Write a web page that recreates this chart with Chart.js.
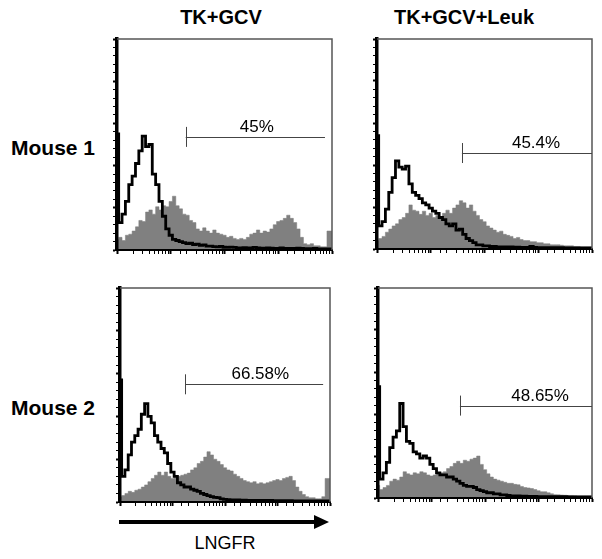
<!DOCTYPE html>
<html>
<head>
<meta charset="utf-8">
<script src="https://cdn.jsdelivr.net/npm/chart.js@4.4.0/dist/chart.umd.min.js"></script>
<style>
  body { margin: 0; background: #fff; width: 602px; height: 559px; position: relative; overflow: hidden;
         font-family: "Liberation Sans", Arial, sans-serif; }
  .lbl { position: absolute; color: #000; white-space: nowrap; transform: translate(-50%, -50%); }
  .b { font-weight: bold; }
  canvas { position: absolute; }
</style>
</head>
<body>
<div class="lbl b" style="left:221px; top:17px; font-size:20px;">TK+GCV</div>
<div class="lbl b" style="left:464px; top:17px; font-size:20px;">TK+GCV+Leuk</div>
<div class="lbl b" style="left:53px; top:148px; font-size:21px;">Mouse 1</div>
<div class="lbl b" style="left:53px; top:408px; font-size:21px;">Mouse 2</div>
<div class="lbl" style="left:225px; top:543px; font-size:18px;">LNGFR</div>
<svg style="position:absolute; left:0; top:0;" width="602" height="559">
  <line x1="119" y1="522" x2="316" y2="522" stroke="#000" stroke-width="4"/>
  <polygon points="314,515 329,522 314,529" fill="#000"/>
</svg>

<canvas id="p1"></canvas>
<canvas id="p2"></canvas>
<canvas id="p3"></canvas>
<canvas id="p4"></canvas>

<script>
// histogram counts, 64 log-spaced channels (% of panel height)
const blackP1 = [55,13,17,23,31,35,41,47,54,49, 50,36,31,23,16,10,7,5,4.5,4,
  3.5,3,3.2,2.6,2.8,2.2,2.4,1.8,1.8,1.6, 1.5,1.7,1.3,1.2,1.4,1.2,1,1,1.1,1,
  1,1.2,1,0.9,0.9,1,0.9,0.8,0.8,1,0.8,0.8,0.7,0.7,0.9,0.7,0.6,0.6,0.6,0.8, 0.5,0.5,0.5,0.5];
const grayP1 = [5,6,4.5,7,7.5,9,11,14,13.5,18, 19,17,20.5,19,21,20.5,23,25.5,21,19.5,
  17,16.5,14,13,10,9,10.5,9,8,9.5, 8,7.5,7,6,6.5,5.5,5,5.5,5,6,
  7.5,8,9.5,8,9,8.5,10,12,13.5,14, 15,16.5,15,13,10,6,3,2.5,3,2, 2,1.5,1.5,9];

const blackP2 = [54,11,13,19,27,34,42,39,38,39.5, 31,27,25.5,24,22,21,19.5,18,17,15,
  14,12,11,12,9,9.5,7,5,4,3, 2,2,1.5,1.5,1.2,1.2,1,1,1,1,
  1,0.9,0.9,0.8,0.8,0.8,1.2,0.8,0.7,0.7, 0.7,0.7,0.6,0.6,0.6,0.6,0.5,0.5,0.5,0.5, 0.5,0.5,0.5,0.5];
const grayP2 = [4,5,6,8,9.5,11,12,14,15,17, 21,18.5,18,16.5,18,16,17,15,16,14.5,
  17,18.5,17,19.5,21,23,22,19.5,21,18, 16,14,13,11,10,9,8,8.5,7,6.5,
  6,5,5.5,4.5,4,4,3.5,3.5,3,3, 2.5,2.5,2,2,2,1.8,1.5,1.5,1.5,1.2, 1.2,1,1,1];

const blackP3 = [57,12,15,22,28,31,34,41,46,40, 37,31,28,25,23,18,14,12,9,8,
  7,7,6,5.5,5,4,3.5,3,2.5,2.2, 2,1.5,1.2,1.1,1,1,1,0.9,0.9,0.8,
  0.8,0.8,0.8,0.7,0.7,0.7,0.7,0.6,0.6,0.6, 0.6,0.6,0.6,0.5,0.5,0.5,0.5,0.5,0.5,0.5, 0.5,0.5,0.5,0.5];
const grayP3 = [2.5,3,4,5,4.5,5.5,6,7,8,9.5, 11,12.5,14,12.5,14,12,11,11.5,12,12.5,
  13,13.5,15,16,18,19,21,23.5,22,20, 19,17.5,16,15,14.5,13,12,11,10,9.5,
  9,9.5,8.5,9,8.5,9,9.5,10,10.5,10, 11,11.5,12,10,7,5,3.5,2.5,2,2, 1.5,1.5,2.5,11];

const blackP4 = [53,9,12,17,24,29,32,45,34,27, 26,22,21,19,20,19,16,14,12,11,
  11,10,10,9,8,7,6,5.5,5.5,5, 4,3.5,3,2.5,2.5,2,2,1.5,1.5,1.2,
  1,1,1,0.9,0.9,0.8,0.8,0.8,0.7,0.7, 0.7,0.7,0.6,0.6,0.6,0.6,0.6,0.5,0.5,0.5, 0.5,0.5,0.5,0.5];
const grayP4 = [6,4,5,6,8,9,8.5,10,12.5,11.5, 11,12,11.5,12.5,12,11,10.5,11,11.5,12,
  12.5,14,15,16.5,17.5,16.5,18,17.5,18.5,19, 20,16,13.5,11.5,10,9,8.5,8,7.5,7,
  7,6.5,6.3,5.5,5,4.8,4.5,4,3.5,3, 3,2.5,2,1.6,1.5,1.4,1.3,1.2,1.2,1.1, 1,1,1,1];

// gates: start channel, end channel, level (%), label, label position
const gateLabels = ['45%', '45.4%', '66.58%', '48.65%'];
const gateStart = [19, 38, 17.4, 34];
const gateEnd = [7400, 10000, 7400, 10000];
const gateLevel = [53.6, 45.7, 55, 44];
const gateLabelAt = [400, 910, 470, 1070];

// panel boxes on the page: left, top, right, bottom
const panels = [
  { id: 'p1', box: [117, 39, 332, 250], black: blackP1, gray: grayP1 },
  { id: 'p2', box: [377, 39, 592, 249], black: blackP2, gray: grayP2 },
  { id: 'p3', box: [120, 288, 330, 502], black: blackP3, gray: grayP3 },
  { id: 'p4', box: [378, 288, 592, 498], black: blackP4, gray: grayP4 }
];

const NBINS = 64;
const edge = i => Math.pow(10, 4 * i / NBINS);
// first channel is the pile-up spike on the axis, drawn half as wide
const toPoints = counts => {
  const pts = counts.map((v, i) => ({ x: edge(i === 0 ? 0 : i - 0.5), y: v }));
  pts.push({ x: edge(NBINS), y: counts[counts.length - 1] });
  return pts;
};

const framePlugin = {
  id: 'frame',
  afterDraw(chart) {
    const { ctx, chartArea: a } = chart;
    ctx.save();
    ctx.strokeStyle = '#555';
    ctx.lineWidth = 1.5;
    ctx.beginPath();
    ctx.moveTo(a.left, a.top);
    ctx.lineTo(a.right, a.top);
    ctx.lineTo(a.right, a.bottom);
    ctx.stroke();
    ctx.restore();
  }
};

const gatePlugin = {
  id: 'gate',
  afterDraw(chart, args, opts) {
    const { ctx, scales: { x, y } } = chart;
    const x0 = x.getPixelForValue(opts.start);
    const x1 = x.getPixelForValue(opts.end);
    const yy = y.getPixelForValue(opts.level);
    ctx.save();
    ctx.strokeStyle = '#444';
    ctx.lineWidth = 1;
    ctx.beginPath();
    ctx.moveTo(Math.round(x0) + 0.5, yy - 10);
    ctx.lineTo(Math.round(x0) + 0.5, yy + 10);
    ctx.moveTo(x0, Math.round(yy) + 0.5);
    ctx.lineTo(x1, Math.round(yy) + 0.5);
    ctx.stroke();
    ctx.fillStyle = '#000';
    ctx.font = '17px "Liberation Sans", Arial, sans-serif';
    ctx.textAlign = 'center';
    ctx.fillText(opts.label, x.getPixelForValue(opts.labelAt), yy - 5);
    ctx.restore();
  }
};

panels.forEach((p, k) => {
  const [L, T, R, B] = p.box;
  const cv = document.getElementById(p.id);
  cv.width = R - L + 8;
  cv.height = B - T + 8;
  cv.style.left = (L - 6) + 'px';
  cv.style.top = (T - 2) + 'px';

  new Chart(cv, {
    type: 'line',
    data: {
      datasets: [
        {
          data: toPoints(p.black),
          stepped: 'before',
          borderColor: '#000',
          borderWidth: 2.8,
          pointRadius: 0,
          fill: false,
          order: 0
        },
        {
          data: toPoints(p.gray),
          stepped: 'before',
          borderColor: '#7c7c7c',
          borderWidth: 0.5,
          backgroundColor: '#808080',
          pointRadius: 0,
          fill: 'origin',
          order: 1
        }
      ]
    },
    options: {
      responsive: false,
      animation: false,
      layout: { padding: { left: 2, top: 2, right: 2, bottom: 2 } },
      plugins: {
        legend: { display: false },
        tooltip: { enabled: false },
        gate: {
          start: gateStart[k], end: gateEnd[k], level: gateLevel[k],
          label: gateLabels[k], labelAt: gateLabelAt[k]
        }
      },
      scales: {
        x: {
          type: 'logarithmic',
          min: 1,
          max: 10000,
          ticks: { display: false },
          grid: {
            drawOnChartArea: false,
            tickLength: 4,
            tickColor: '#000',
            tickWidth: c => (Math.abs(Math.log10(c.tick.value) % 1) < 1e-9 ? 2 : 1)
          },
          border: { color: '#000', width: 2, z: 1 }
        },
        y: {
          min: 0,
          max: 100,
          ticks: { display: false, stepSize: 4 },
          grid: {
            drawOnChartArea: false,
            tickLength: 4,
            tickColor: '#000',
            tickWidth: c => (c.tick.value % 20 === 0 ? 2 : 1)
          },
          border: { color: '#000', width: 3.5, z: 1 }
        }
      }
    },
    plugins: [framePlugin, gatePlugin]
  });
});
</script>
</body>
</html>
